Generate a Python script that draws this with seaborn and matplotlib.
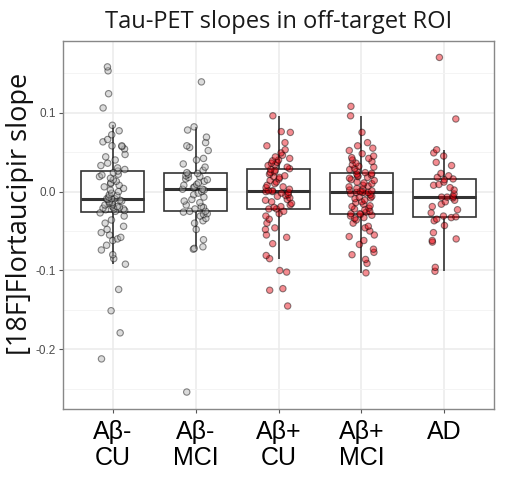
import numpy as np
import pandas as pd
import matplotlib
matplotlib.use("Agg")
import matplotlib.pyplot as plt
import seaborn as sns

groups = ["Aβ-\nCU", "Aβ-\nMCI", "Aβ+\nCU", "Aβ+\nMCI", "AD"]

ab_neg_cu = [-0.212, -0.179, -0.151, -0.124, -0.092, -0.085, -0.080, -0.074, -0.068, -0.062,
             -0.060, -0.058, -0.055, -0.052, -0.048, -0.044, -0.040, -0.036, -0.031, -0.027,
             -0.025, -0.024, -0.023, -0.022, -0.022, -0.021, -0.020, -0.020, -0.019, -0.018,
             -0.017, -0.016, -0.015, -0.014, -0.013, -0.012, -0.011, -0.010, -0.009, -0.009,
             -0.009, -0.007, -0.005, -0.004, -0.002, 0.000, 0.002, 0.004, 0.006, 0.008,
             0.010, 0.011, 0.013, 0.015, 0.017, 0.019, 0.021, 0.022, 0.024, 0.026,
             0.028, 0.030, 0.033, 0.036, 0.040, 0.044, 0.047, 0.054, 0.057, 0.058,
             0.058, 0.063, 0.066, 0.072, 0.077, 0.084, 0.106, 0.124, 0.153, 0.158]

ab_neg_mci = [-0.254, -0.073, -0.072, -0.070, -0.061, -0.048, -0.040, -0.037, -0.034, -0.031,
              -0.029, -0.028, -0.026, -0.025, -0.025, -0.022, -0.020, -0.019, -0.017, -0.014,
              -0.012, -0.010, -0.007, -0.004, -0.002, 0.000, 0.002, 0.003, 0.003, 0.005,
              0.006, 0.008, 0.009, 0.011, 0.013, 0.015, 0.016, 0.018, 0.019, 0.020,
              0.022, 0.023, 0.024, 0.027, 0.031, 0.035, 0.040, 0.042, 0.052, 0.056,
              0.058, 0.062, 0.069, 0.078, 0.082, 0.139]

ab_pos_cu = [-0.145, -0.125, -0.123, -0.102, -0.100, -0.085, -0.081, -0.066, -0.058, -0.055,
             -0.048, -0.046, -0.040, -0.035, -0.031, -0.028, -0.025, -0.022,
             -0.022, -0.020, -0.019, -0.017, -0.015, -0.013, -0.011, -0.010, -0.008, -0.006,
             -0.005, -0.004, -0.002, -0.001, 0.000, 0.000, 0.001,
             0.001, 0.003, 0.005, 0.006, 0.008, 0.010, 0.012, 0.014, 0.016, 0.018,
             0.019, 0.020, 0.022, 0.024, 0.025, 0.027, 0.028,
             0.029, 0.031, 0.033, 0.034, 0.036, 0.037, 0.039, 0.040, 0.042, 0.044,
             0.046, 0.049, 0.053, 0.058, 0.062, 0.075, 0.076, 0.096]

ab_pos_mci = [-0.103, -0.091, -0.086, -0.080, -0.077, -0.073, -0.067, -0.062, -0.057, -0.055,
              -0.050, -0.046, -0.044, -0.040, -0.036, -0.034, -0.033, -0.031, -0.030, -0.029, -0.028,
              -0.028, -0.026, -0.025, -0.023, -0.022, -0.021, -0.019, -0.018, -0.016, -0.014,
              -0.013, -0.011, -0.009, -0.008, -0.007, -0.006, -0.004, -0.003, -0.002, -0.001, -0.001,
              -0.001, 0.000, 0.001, 0.002, 0.003, 0.004, 0.006, 0.007, 0.008, 0.010,
              0.011, 0.012, 0.014, 0.015, 0.017, 0.018, 0.019, 0.020, 0.021, 0.022, 0.023,
              0.024, 0.026, 0.028, 0.029, 0.031, 0.032, 0.034, 0.036, 0.038, 0.040,
              0.042, 0.043, 0.045, 0.048, 0.052, 0.055, 0.058, 0.062, 0.075, 0.096, 0.108]

ad = [-0.101, -0.096, -0.064, -0.062, -0.060, -0.052, -0.043, -0.037, -0.035, -0.033,
      -0.032, -0.031, -0.027, -0.023, -0.019, -0.016, -0.013, -0.011, -0.008, -0.007,
      -0.007, -0.006, -0.003, 0.002, 0.005, 0.008, 0.009, 0.012, 0.015, 0.016,
      0.018, 0.020, 0.023, 0.033, 0.037, 0.045, 0.049, 0.053, 0.092, 0.170]

series = [ab_neg_cu, ab_neg_mci, ab_pos_cu, ab_pos_mci, ad]
point_colors = ["#b0b0b0", "#b0b0b0", "#e8000b", "#e8000b", "#e8000b"]
y_ticks = [-0.2, -0.1, 0.0, 0.1]
y_tick_labels = ["-0.2", "-0.1", "0.0", "0.1"]

df = pd.DataFrame({
    "group": np.concatenate([[g] * len(v) for g, v in zip(groups, series)]),
    "value": np.concatenate(series),
})

sns.set_style("white")
plt.rcParams["font.family"] = ["Liberation Sans", "DejaVu Sans"]

fig = plt.figure(figsize=(5.15, 4.82), dpi=100)
ax = fig.add_axes([63 / 515, 1 - 409 / 482, (494 - 63) / 515, (409 - 41) / 482])

sns.boxplot(data=df, x="group", y="value", order=groups, color="white",
            linecolor="#333333", linewidth=1.2, width=0.76, showfliers=False,
            showcaps=False, saturation=1, medianprops={"linewidth": 2.2},
            ax=ax, zorder=2)

np.random.seed(7)
sns.stripplot(data=df, x="group", y="value", order=groups, hue="group",
              palette=dict(zip(groups, point_colors)), jitter=0.16, size=4.6,
              edgecolor="black", linewidth=0.8, alpha=0.45, legend=False,
              ax=ax, zorder=3)

ax.set_xlim(-0.6, 4.6)
ax.set_ylim(-0.2755, 0.1908)
ax.set_yticks(y_ticks)
ax.set_yticklabels(y_tick_labels)
ax.set_yticks([-0.25, -0.15, -0.05, 0.05, 0.15], minor=True)
ax.grid(True, which="major", color="#ebebeb", linewidth=1.1, zorder=0)
ax.grid(True, which="minor", axis="y", color="#f4f4f4", linewidth=0.7, zorder=0)
ax.set_axisbelow(True)

for s in ax.spines.values():
    s.set_color("#888888")
    s.set_linewidth(1.0)

ax.tick_params(axis="y", which="major", length=3, color="#555555", labelsize=8.5,
               labelcolor="#4d4d4d", pad=2, left=True)
ax.tick_params(axis="y", which="minor", length=0)
ax.tick_params(axis="x", length=3, color="#555555", labelsize=18, labelcolor="black",
               pad=5, bottom=True)
for lab in ax.get_xticklabels():
    lab.set_linespacing(1.12)
    lab.set_verticalalignment("top")

ax.set_xlabel("")
ax.set_ylabel("[18F]Flortaucipir slope", fontsize=19.5, family=["Open Sans", "DejaVu Sans"],
              color="#111111")
ax.yaxis.set_label_coords(-0.068, 0.53)
ax.set_title("Tau-PET slopes in off-target ROI", fontsize=17,
             family=["Open Sans", "DejaVu Sans"], color="#1a1a1a", pad=9)

fig.savefig("out.png", dpi=100, facecolor="white")
